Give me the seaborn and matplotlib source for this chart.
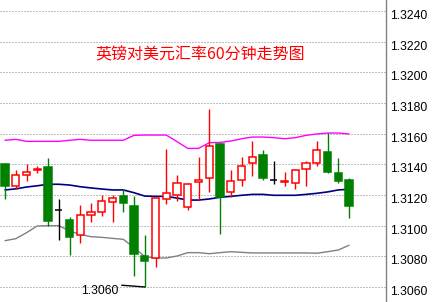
import numpy as np
import pandas as pd
import matplotlib
matplotlib.use("Agg")
import matplotlib.pyplot as plt
import seaborn as sns
from matplotlib.transforms import ScaledTranslation

# ---------------- data ----------------
title = "英镑对美元汇率60分钟走势图"
open_ = [1.31402, 1.31257, 1.31328, 1.31365, 1.31383, 1.31104, 1.31035, 1.30941, 1.31072, 1.31087,
         1.31152, 1.31191, 1.31128, 1.30802, 1.30787, 1.31172, 1.31202, 1.31124, 1.31283, 1.31313,
         1.31535, 1.31217, 1.31300, 1.31407, 1.31461, 1.31296, 1.31283, 1.31276, 1.31367, 1.31407,
         1.31480, 1.31343, 1.31298]
high = [1.31411, 1.31363, 1.31400, 1.31391, 1.31441, 1.31172, 1.31057, 1.31133, 1.31146, 1.31200,
        1.31200, 1.31239, 1.31193, 1.30937, 1.31178, 1.31500, 1.31330, 1.31278, 1.31448, 1.31761,
        1.31540, 1.31363, 1.31448, 1.31552, 1.31493, 1.31422, 1.31350, 1.31370, 1.31422, 1.31552,
        1.31607, 1.31441, 1.31311]
low = [1.31172, 1.31237, 1.31293, 1.31346, 1.30998, 1.30909, 1.30809, 1.30887, 1.31024, 1.31065,
       1.31024, 1.31091, 1.30674, 1.30600, 1.30733, 1.31143, 1.31163, 1.31104, 1.31167, 1.31222,
       1.30946, 1.31189, 1.31261, 1.31326, 1.31300, 1.31274, 1.31261, 1.31241, 1.31257, 1.31391,
       1.31346, 1.31280, 1.31052]
close = [1.31261, 1.31328, 1.31350, 1.31368, 1.31033, 1.31104, 1.30928, 1.31072, 1.31087, 1.31159,
         1.31180, 1.31146, 1.30813, 1.30772, 1.31178, 1.31211, 1.31276, 1.31270, 1.31298, 1.31517,
         1.31185, 1.31291, 1.31387, 1.31446, 1.31313, 1.31296, 1.31291, 1.31363, 1.31407, 1.31491,
         1.31352, 1.31293, 1.31130]
bb_upper = [1.31557, 1.31563, 1.31550, 1.31550, 1.31550, 1.31550, 1.31557, 1.31563, 1.31557, 1.31557,
            1.31557, 1.31557, 1.31589, 1.31591, 1.31591, 1.31591, 1.31548, 1.31504, 1.31504, 1.31541,
            1.31543, 1.31552, 1.31567, 1.31578, 1.31578, 1.31574, 1.31567, 1.31574, 1.31589, 1.31598,
            1.31604, 1.31604, 1.31598]
bb_middle = [1.31233, 1.31240, 1.31252, 1.31260, 1.31270, 1.31270, 1.31265, 1.31254, 1.31246, 1.31239,
             1.31233, 1.31233, 1.31215, 1.31193, 1.31191, 1.31191, 1.31180, 1.31167, 1.31167, 1.31174,
             1.31185, 1.31191, 1.31198, 1.31204, 1.31204, 1.31198, 1.31198, 1.31198, 1.31204, 1.31211,
             1.31220, 1.31233, 1.31237]
bb_lower = [1.30902, 1.30915, 1.30954, 1.30998, 1.31000, 1.31000, 1.30965, 1.30943, 1.30928, 1.30924,
            1.30917, 1.30911, 1.30857, 1.30798, 1.30789, 1.30789, 1.30802, 1.30824, 1.30824, 1.30817,
            1.30824, 1.30830, 1.30826, 1.30822, 1.30822, 1.30822, 1.30822, 1.30822, 1.30822, 1.30820,
            1.30830, 1.30841, 1.30872]
y_ticks = [1.3060, 1.3080, 1.3100, 1.3120, 1.3140, 1.3160, 1.3180, 1.3200, 1.3220, 1.3240]

# ---------------- figure ----------------
sns.set_style("white")
plt.rcParams["font.family"] = ["Liberation Sans", "DejaVu Sans"]

df = pd.DataFrame({"open": open_, "high": high, "low": low, "close": close,
                   "upper": bb_upper, "middle": bb_middle, "lower": bb_lower})
df["idx"] = np.arange(len(df))

fig = plt.figure(figsize=(4.41, 3.02), dpi=100)
ax = fig.add_axes([0, 0, 386 / 441, 1])

# Bollinger bands
sns.lineplot(data=df, x="idx", y="upper", ax=ax, color="#FF00FF", lw=1.0, zorder=2)
sns.lineplot(data=df, x="idx", y="middle", ax=ax, color="#000080", lw=1.2, zorder=2)
sns.lineplot(data=df, x="idx", y="lower", ax=ax, color="#808080", lw=1.0, zorder=2)

# candles
up = df["close"] > df["open"]
dn = df["close"] < df["open"]
edge = np.where(up, "#FF0000", np.where(dn, "#008000", "#000000"))
face = np.where(up, "white", np.where(dn, "#008000", "#000000"))
ax.vlines(df["idx"], df["low"], df["high"], colors=edge, lw=1.0, zorder=3)
ax.bar(df["idx"], (df["close"] - df["open"]).abs(),
       bottom=df[["open", "close"]].min(axis=1), width=0.68,
       color=face, edgecolor=edge, linewidth=1.1, zorder=4)

# min annotation
imin = int(df["low"].idxmin())
ax.annotate(f"{df['low'][imin]:.4f}", xy=(imin, df["low"][imin]), xytext=(-45, -4),
            textcoords="offset pixels", ha="center", va="center", fontsize=8.7, color="black",
            arrowprops=dict(arrowstyle="-", color="black", lw=1.0, relpos=(1, 1),
                            shrinkA=0, shrinkB=0), zorder=6)

# axes styling
ax.set_xlim(-0.465, 35.44)
ax.set_ylim(1.30502, 1.32472)
ax.set_xticks([])
ax.set_xlabel("")
ax.set_ylabel("")
ax.yaxis.tick_right()
ax.set_yticks(y_ticks, [f"{v:.4f}" for v in y_ticks])
ax.tick_params(axis="y", length=0, pad=3, labelsize=8.7, labelcolor="black")
ax.grid(axis="y", color="#808080", linestyle=(0, (1, 2)), linewidth=0.72)
ax.grid(axis="x", visible=False)
ax.set_axisbelow(True)
for s in ["top", "left", "bottom"]:
    ax.spines[s].set_visible(False)
ax.spines["right"].set_color("#808080")
ax.spines["right"].set_linewidth(1.0)

off = ScaledTranslation(0, -3.5 / 100, fig.dpi_scale_trans)
for t in ax.yaxis.get_major_ticks():
    t.label2.set_transform(t.label2.get_transform() + off)

fig.text(200 / 441, 1 - 55 / 302, title, ha="center", va="center", color="#FF0000",
         fontsize=11.5, family=["Noto Sans CJK SC", "DejaVu Sans"])

fig.savefig("out.png", dpi=100)
